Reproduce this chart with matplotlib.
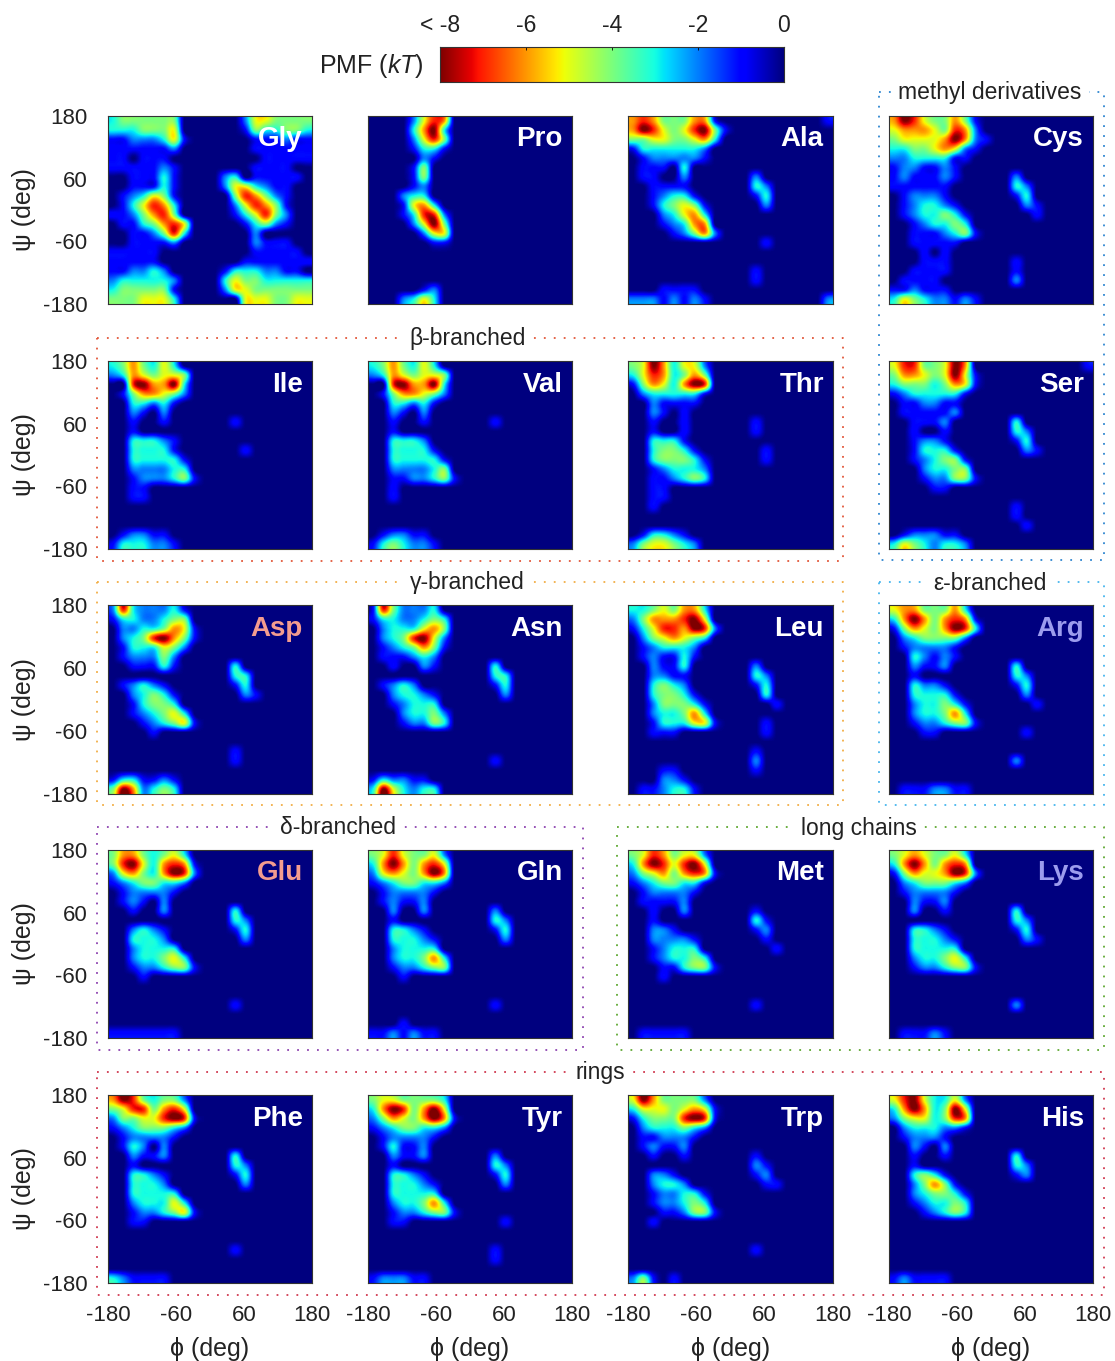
import numpy as np
import matplotlib
matplotlib.use("Agg")
import matplotlib.pyplot as plt
from matplotlib.lines import Line2D

plt.rcParams['font.family'] = ['Liberation Sans', 'DejaVu Sans']
plt.rcParams['mathtext.fontset'] = 'custom'
plt.rcParams['mathtext.it'] = 'Liberation Sans:italic'
plt.rcParams['mathtext.rm'] = 'Liberation Sans'
plt.rcParams['axes.unicode_minus'] = False

# Depth of the PMF (in -kT) on a 20 x 20 grid of 18 degree bins.
# Rows run from psi=+180 down to psi=-180. "left|right": columns 0-9 | columns 10-19,
# unwritten trailing columns and rows are 0.
Gly = ["3444444|0002554444", "33344450|0001433443", "11222351|0000111211", "1111112|0000111111",
       "1101110|0000011111", "1111121|0000111100", "0011131|0230111110", "0011131|0255321100",
       "0123541|0047642100", "0135763|0025764100", "1124674|0013574200", "01134675|0001342100",
       "00112473|0000200000", "0011112|0000211100", "1111100|0000111110", "1111100|0001111111",
       "1122320|0133322110", "2333332|0354433333", "3444441|0255444444", "4445553|0005554455"]
Pro = ["00002576", "00003683", "00002574", "00001331", "00000210",
       "00001400", "00001400", "00001200", "00023300", "00015630", "00013772", "00002584",
       "00000255", "00000011", "", "", "", "", "00000120", "00023530"]
Ala = ["676444661|0000000001", "6875457841", "445544563", "13333332", "01222221",
       "01110300", "0110020|002", "0011110|0032", "0012331|0013", "00134541|0002",
       "00023563", "00012366", "000012462", "|0001", "", "", "|001", "|001",
       "0001111", "22212121|0000000002"]
Cys = ["687544641", "566654762", "4555568621", "334456521", "22333311",
       "1221121", "1211121|002", "111111|0032", "012221|0013", "0123321|00021",
       "01233431|00001", "00123343", "001112341", "0011111", "000101", "000111|001",
       "001111|001", "01111|002", "112111", "354322121"]
Ile = ["3464353", "23654554", "00786683", "01466542", "0033231", "002102", "001001|001", "001",
       "0033321", "0033331|0001", "00333331", "00222233", "001222341", "0011", "0011",
       "", "", "", "012211", "1333221"]
Val = ["3464353", "23654554", "00786683", "01466542", "0033231", "002102", "001001|001", "001",
       "003332", "0033331", "00333331", "00222234", "001122341", "0010", "001",
       "", "", "", "012211", "1343221"]
Thr = ["45863552", "35763464", "14653687", "02333331", "0021111", "002101", "001001|001", "001001|001",
       "003331", "0034431|0001", "00344431|0001", "00123332", "00112343", "0011", "0011",
       "001", "", "", "013321", "2455432"]
Ser = ["57744586|0000000001", "466545851", "344434651", "12333331", "0112211",
       "0111112", "001112|003", "001001|0032", "001221|0013", "0013331|00021",
       "00123441", "00023344", "000122441", "000011", "", "|001", "|001", "|0001",
       "0122211", "35432332"]
Asp = ["27322231", "13322344", "022334651", "023478641", "01333542", "0122242", "0011131|003", "|0033",
       "012321|0013", "0023431|00021", "0013443", "00123453", "000123451", "00001", "", "|001",
       "|001", "", "1331121", "4862343"]
Asn = ["17422230", "13322343", "02333564", "02347852", "01234641", "0111232", "0010021|003", "|0033",
       "012320|0013", "0023321|0002", "0012333", "00023342", "00012243", "", "", "",
       "|001", "", "132211", "3853233"]
Leu = ["33454663", "24666785", "135776872", "02456543", "0123332", "0121131", "002113|002", "002211|0032",
       "003432|0013", "0034431|0003", "00244431|00001", "00233463", "001333551|0001", "00111|0001", "",
       "|001", "|002", "00011|001", "000221", "0112331"]
Arg = ["56644463", "368646761", "146546873", "02344442", "0122221", "0032121", "002112|003", "001|0032",
       "003221|0013", "0033331|0002", "00233431|00001", "00233463", "001223441", "00011|0001", "",
       "", "|002", "", "", "01112211"]
Glu = ["46643453", "478536761", "256436872", "12344332", "0122221", "012102", "001002|003", "|0032",
       "002321|0013", "003332|0002", "0023333", "00233453", "001223441", "0001", "",
       "", "|001", "", "", "1111111"]
Gln = ["45754452", "36864675", "25654686", "12344332", "0122221", "012112", "002002|002", "001|0032",
       "003321|0013", "0033321|0002", "0023333", "00233463", "00122344", "0001", "",
       "", "|001", "", "0001", "1121211"]
Met = ["45764552", "36875785", "245646761", "12344331", "0122221", "011112", "001002|001", "001|0031",
       "00221|0012", "0022221|0001", "0012333|00001", "00123343", "000113441", "0001", "",
       "", "|001", "", "", "011111"]
Lys = ["45654453", "36864676", "146556872", "02344432", "0122221", "002112", "002001|003", "|0032",
       "003321|0013", "0033321|00021", "0033333", "00233453", "001223441", "", "",
       "", "|002", "", "", "011121"]
Phe = ["68743442", "45774675", "244557871", "12344432", "0122221", "013202", "002112|003", "001|0032",
       "003321|0013", "003332|0002", "0033333", "00233353", "001223451", "0011", "",
       "", "|001", "", "", "321111"]
Tyr = ["45544443", "36874685", "246546861", "12344332", "0122221", "013112", "002112|002", "001|0032",
       "003321|0013", "0033321|0002", "0033333", "00233463", "001223441", "0011|0001", "",
       "", "|001", "|001", "", "122211"]
Trp = ["58644442", "355545651", "134447871", "02333432", "0112221", "012112", "001001|001", "|0021",
       "00221|0012", "002332|00011", "00122331", "00122343", "000112441", "001", "",
       "", "|001", "", "", "241010"]
His = ["57853352", "36863485", "24553476", "02333221", "012221", "002102", "001001|003", "001|0032",
       "003431|0012", "0024641", "00234431", "00123343", "00012343", "", "",
       "", "", "", "", "121111"]

panels = [["Gly", "Pro", "Ala", "Cys"], ["Ile", "Val", "Thr", "Ser"], ["Asp", "Asn", "Leu", "Arg"],
          ["Glu", "Gln", "Met", "Lys"], ["Phe", "Tyr", "Trp", "His"]]
grids = dict(Gly=Gly, Pro=Pro, Ala=Ala, Cys=Cys, Ile=Ile, Val=Val, Thr=Thr, Ser=Ser, Asp=Asp, Asn=Asn,
             Leu=Leu, Arg=Arg, Glu=Glu, Gln=Gln, Met=Met, Lys=Lys, Phe=Phe, Tyr=Tyr, Trp=Trp, His=His)
label_colors = dict(Asp="#F39C8F", Glu="#F39C8F", Arg="#9C9CEE", Lys="#9C9CEE")
ticks = [-180, -60, 60, 180]
cbar_ticks = [-8, -6, -4, -2, 0]
cbar_labels = ["< -8", "-6", "-4", "-2", "0"]

W, H = 1115, 1361
fig = plt.figure(figsize=(W / 100, H / 100), dpi=100, facecolor="white")


def axpx(x0, y0, x1, y1, **kw):
    return fig.add_axes([x0 / W, 1 - y1 / H, (x1 - x0) / W, (y1 - y0) / H], **kw)


def decode(rows):
    out = []
    for r in rows:
        if "|" in r:
            left, right = r.split("|")
            s = left.ljust(10, "0")[:10] + right.ljust(10, "0")[:10]
        else:
            s = r.ljust(20, "0")[:20]
        out.append([-int(c) for c in s])
    return np.array(out, float)


xs = [(108, 312), (368, 572), (628, 833), (889, 1093)]
ys = [(116, 304), (361, 549), (605, 794), (850, 1038), (1095, 1283)]
for i, row in enumerate(panels):
    for j, name in enumerate(row):
        ax = axpx(xs[j][0], ys[i][0], xs[j][1], ys[i][1])
        ax.imshow(decode(grids[name]), cmap="jet_r", vmin=-8, vmax=0, extent=[-180, 180, -180, 180],
                  aspect="auto", interpolation="catrom", interpolation_stage="data")
        ax.set_xlim(-180, 180)
        ax.set_ylim(-180, 180)
        ax.set_xticks(ticks)
        ax.set_yticks(ticks)
        ax.tick_params(length=0, labelsize=16, colors="#222222")
        ax.tick_params(axis="y", pad=15)
        ax.tick_params(axis="x", pad=16)
        if i < 4:
            ax.set_xticklabels([])
        else:
            ax.set_xlabel("ϕ (deg)", fontsize=18, color="#222222", labelpad=7.5)
        if j > 0:
            ax.set_yticklabels([])
        else:
            ax.set_ylabel("ψ (deg)", fontsize=18, color="#222222", labelpad=5)
        for s in ax.spines.values():
            s.set_linewidth(0.8)
            s.set_color("#333333")
        ax.text(0.955, 0.875, name, transform=ax.transAxes, ha="right", va="center", fontsize=20,
                fontweight="bold", color=label_colors.get(name, "white"))

# colour bar
cax = axpx(440, 47, 784, 82)
cax.imshow(np.linspace(-8, 0, 256)[None, :], cmap="jet_r", vmin=-8, vmax=0, extent=[-8, 0, 0, 1],
           aspect="auto", interpolation="bilinear")
cax.set_yticks([])
cax.set_xticks(cbar_ticks)
cax.set_xticklabels(cbar_labels, fontsize=16.5, color="#222222")
cax.tick_params(axis="x", top=True, bottom=False, labeltop=True, labelbottom=False, direction="in",
                length=2, width=0.6, pad=7.5)
for s in cax.spines.values():
    s.set_linewidth(0.8)
    s.set_color("#333333")
fig.text(424 / W, 1 - 66 / H, r"PMF ($\mathit{kT}$)", ha="right", va="center", fontsize=18, color="#222222")

# dotted group boxes
boxes = [
    ("methyl derivatives", 879, 92, 1104, 560, "#2E86D0", 990),
    ("β-branched", 97, 338, 843, 561, "#E2573A", 468),
    ("γ-branched", 97, 582, 843, 805, "#F2AE45", 467),
    ("ε-branched", 879, 582, 1104, 805, "#45B5EE", 990),
    ("δ-branched", 97, 827, 583, 1050, "#8E44B0", 338),
    ("long chains", 617, 827, 1104, 1050, "#5FA832", 859),
    ("rings", 97, 1072, 1104, 1295, "#D03A50", 600),
]
for label, x0, y0, x1, y1, col, lx in boxes:
    fx = [x0 / W, x1 / W, x1 / W, x0 / W, x0 / W]
    fy = [1 - y0 / H, 1 - y0 / H, 1 - y1 / H, 1 - y1 / H, 1 - y0 / H]
    fig.add_artist(Line2D(fx, fy, transform=fig.transFigure, color=col, lw=1.3, ls=(0, (1, 4.5))))
    fig.text(lx / W, 1 - (y0 + 1) / H, label, ha="center", va="center", fontsize=16.5, color="#222222",
             bbox=dict(facecolor="white", edgecolor="none", pad=5))

fig.savefig("out.png", dpi=100)
